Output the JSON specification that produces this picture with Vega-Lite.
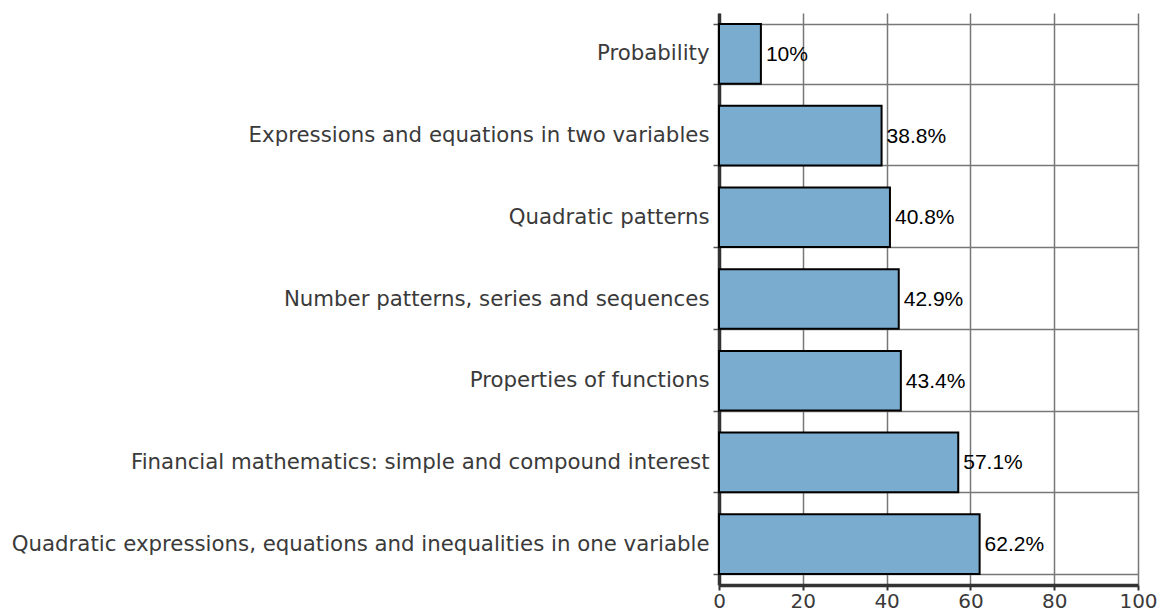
{
  "$schema": "https://vega.github.io/schema/vega-lite/v6.json",
  "autosize": "none",
  "width": 419,
  "height": 572,
  "padding": {"left": 719, "top": 13, "right": 32, "bottom": 29},
  "background": "white",
  "config": {
    "view": {"stroke": null},
    "axis": {"labelFont": "DejaVu Sans", "labelColor": "#3a3a3a", "labelFontSize": 20}
  },
  "data": {
    "values": [
      {"topic": "Probability", "pct": 10},
      {"topic": "Expressions and equations in two variables", "pct": 38.8},
      {"topic": "Quadratic patterns", "pct": 40.8},
      {"topic": "Number patterns, series and sequences", "pct": 42.9},
      {"topic": "Properties of functions", "pct": 43.4},
      {"topic": "Financial mathematics: simple and compound interest", "pct": 57.1},
      {"topic": "Quadratic expressions, equations and inequalities in one variable", "pct": 62.2}
    ]
  },
  "transform": [
    {"calculate": "format(datum.pct, '.3~f') + '%'", "as": "label"}
  ],
  "encoding": {
    "y": {
      "field": "topic",
      "type": "nominal",
      "sort": null,
      "scale": {"paddingInner": 0.27, "paddingOuter": 0.135},
      "axis": {
        "title": null,
        "tickBand": "extent",
        "grid": true,
        "gridColor": "#777777",
        "gridWidth": 1.5,
        "gridOpacity": 1,
        "domain": true,
        "domainColor": "#333333",
        "domainWidth": 3.5,
        "ticks": true,
        "tickColor": "#555555",
        "tickSize": 6,
        "tickWidth": 1.5,
        "labelPadding": 4,
        "labelFontSize": 21.3,
        "labelLimit": 0
      }
    }
  },
  "layer": [
    {
      "mark": {"type": "bar", "fill": "#7aaccf", "stroke": "#000000", "strokeWidth": 2},
      "encoding": {
        "x": {
          "field": "pct",
          "type": "quantitative",
          "scale": {"domain": [0, 100], "nice": false},
          "axis": {
            "title": null,
            "values": [0, 20, 40, 60, 80, 100],
            "grid": true,
            "gridColor": "#777777",
            "gridWidth": 1.5,
            "gridOpacity": 1,
            "domainColor": "#333333",
            "domainWidth": 3.5,
            "tickColor": "#333333",
            "tickSize": 5,
            "tickWidth": 2,
            "labelPadding": 1,
            "labelFlush": false
          }
        }
      }
    },
    {
      "mark": {"type": "text", "align": "left", "baseline": "middle", "dx": 5, "dy": 1, "font": "Liberation Sans", "fontSize": 21, "color": "#000000"},
      "encoding": {
        "x": {"field": "pct", "type": "quantitative"},
        "text": {"field": "label", "type": "nominal"}
      }
    }
  ]
}
